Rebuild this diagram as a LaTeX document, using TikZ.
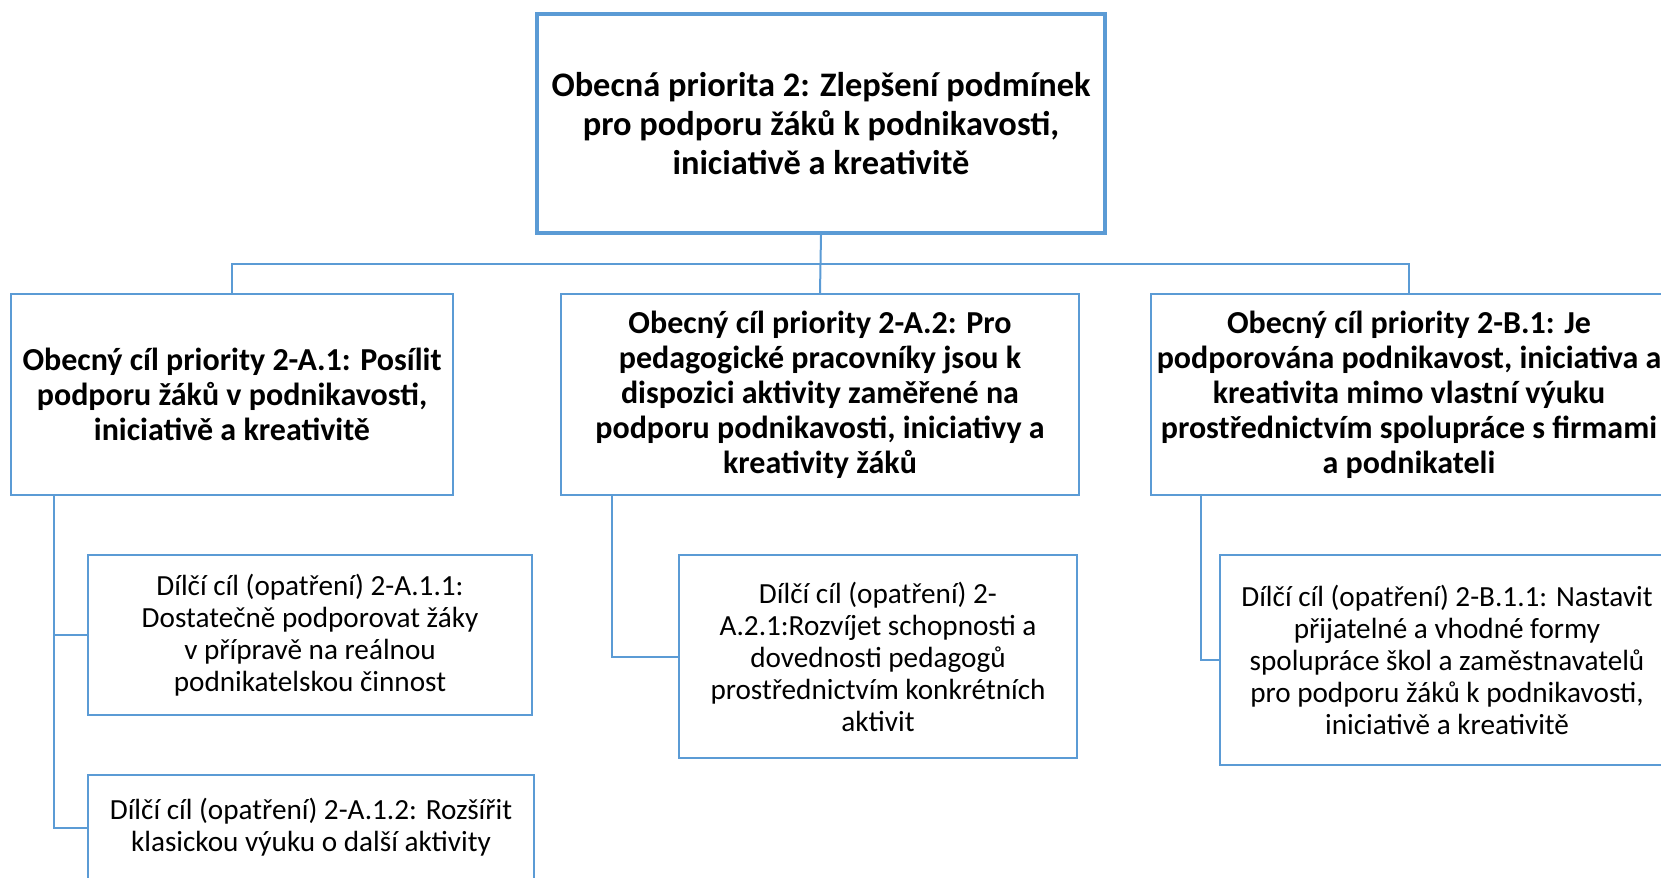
\documentclass[tikz,border=0pt]{standalone}
\usepackage{fontspec}
\setmainfont{Carlito}
\usetikzlibrary{positioning,calc}
\definecolor{colorLink}{RGB}{91,155,213}
\tikzset{
   prio/.style={draw=colorLink,line width=2pt,fill=white,align=center,inner sep=0pt,
      font=\fontsize{17.2}{19.5}\selectfont\bfseries},
   goal/.style={draw=colorLink,line width=1pt,fill=white,align=center,inner sep=0pt,
      minimum height=100.5pt,font=\fontsize{16}{17.5}\selectfont\bfseries},
   subgoal/.style={draw=colorLink,line width=1pt,fill=white,align=center,inner sep=0pt,
      font=\fontsize{14.6}{16}\selectfont},
   link/.style={-,color=colorLink,line width=1pt,line join=miter},
}
\begin{document}
\begin{tikzpicture}[x=0.5pt,y=-0.5pt]
    \useasboundingbox (0,0) rectangle (1661,878);
    \clip (0,0) rectangle (1661,878);

    \node[prio,minimum width=284pt,minimum height=109.5pt] (prio) at (821,123.5)
        {Obecná priorita 2: Zlepšení podmínek\\pro podporu žáků k podnikavosti,\\iniciativě a kreativitě};

    \node[goal,minimum width=221pt] (ga1) at (232,394.5)
        {Obecný cíl priority 2-A.1: Posílit\\podporu žáků v podnikavosti,\\iniciativě a kreativitě};
    \node[goal,minimum width=259pt] (ga2) at (820,394.5)
        {Obecný cíl priority 2-A.2: Pro\\pedagogické pracovníky jsou k\\dispozici aktivity zaměřené na\\podporu podnikavosti, iniciativy a\\kreativity žáků};
    \node[goal,minimum width=258pt] (gb1) at (1409,394.5)
        {Obecný cíl priority 2-B.1: Je\\podporována podnikavost, iniciativa a\\kreativita mimo vlastní výuku\\prostřednictvím spolupráce s firmami\\a podnikateli};

    \node[subgoal,minimum width=222pt,minimum height=80pt] (sa11) at (310,635)
        {Dílčí cíl (opatření) 2-A.1.1:\\Dostatečně podporovat žáky\\v přípravě na reálnou\\podnikatelskou činnost};
    \node[subgoal,minimum width=223pt,minimum height=52.5pt] (sa12) at (311,827.5)
        {Dílčí cíl (opatření) 2-A.1.2: Rozšířit\\klasickou výuku o další aktivity};
    \node[subgoal,minimum width=199pt,minimum height=101.5pt] (sa21) at (878,656.5)
        {Dílčí cíl (opatření) 2-\\A.2.1:Rozvíjet schopnosti a\\dovednosti pedagogů\\prostřednictvím konkrétních\\aktivit};
    \node[subgoal,minimum width=227pt,minimum height=105pt] (sb11) at (1447,660)
        {Dílčí cíl (opatření) 2-B.1.1: Nastavit\\přijatelné a vhodné formy\\spolupráce škol a zaměstnavatelů\\pro podporu žáků k podnikavosti,\\iniciativě a kreativitě};

    \coordinate (bus) at ($(prio.south)!0.5!(ga2.north)$);
    \draw[link] (prio.south) -- (ga2.north);
    \draw[link] (ga1.north) |- (bus) -| (gb1.north);

    \draw[link] ([xshift=22pt]ga1.south west) |- (sa11.west);
    \draw[link] ([xshift=22pt]ga1.south west) |- (sa12.west);
    \draw[link] ([xshift=26pt]ga2.south west) |- (sa21.west);
    \draw[link] ([xshift=25.5pt]gb1.south west) |- (sb11.west);
\end{tikzpicture}
\end{document}
